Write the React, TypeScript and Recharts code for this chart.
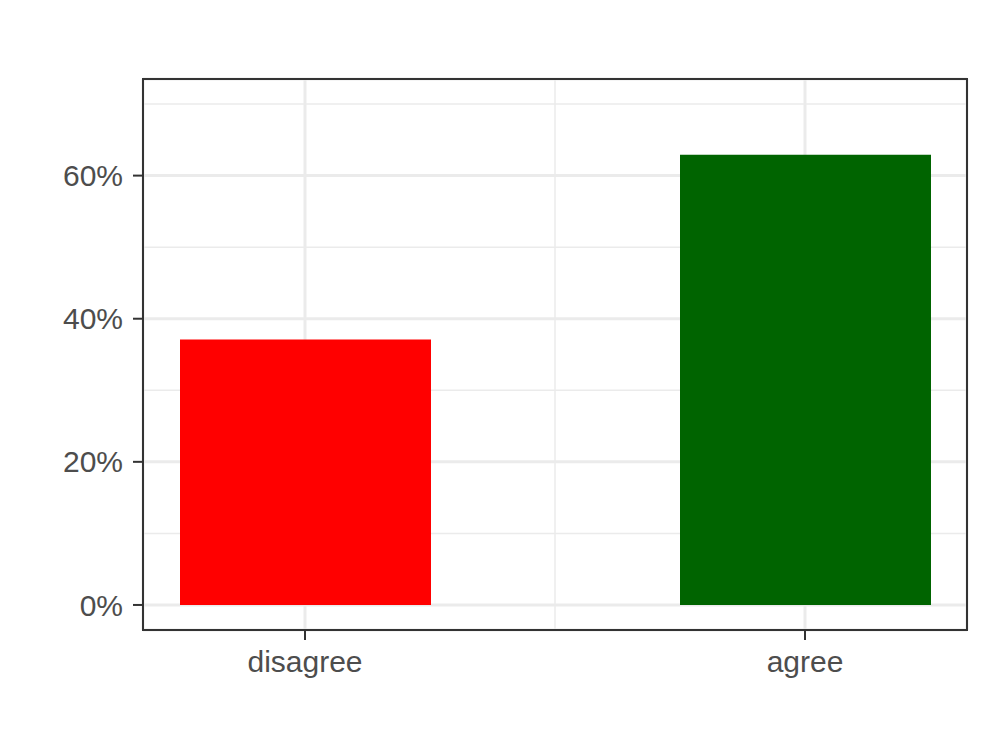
import React from "react";
import {
  BarChart,
  Bar,
  Cell,
  XAxis,
  YAxis,
  CartesianGrid,
  ReferenceArea,
} from "recharts";

const categories = ["disagree", "agree"];
const shares = [37.1, 62.9]; // percent
const barColors = ["#FF0000", "#006400"];
const yTicks = [0, 20, 40, 60];
const yMinorTicks = [10, 30, 50, 70];
const xMinorTicks = [0.5]; // halfway between the two categories
const yDomain: [number, number] = [-3.5, 73.5];

const data = categories.map((c, i) => ({ name: c, value: shares[i] }));

const FONT = "'Liberation Sans', Arial, Helvetica, sans-serif";
const GRID = "#EBEBEB";
const INK = "#333333";

const App: React.FC = () => {
  return (
    <div style={{ position: "absolute", left: 0, top: 0, background: "#fff" }}>
      <BarChart
        width={987}
        height={740}
        data={data}
        margin={{ top: 79, right: 20, bottom: 50, left: 0 }}
      >
        {/* minor grid */}
        <CartesianGrid
          xAxisId="g"
          horizontalValues={yMinorTicks}
          verticalValues={xMinorTicks}
          stroke={GRID}
          strokeWidth={1.5}
        />
        {/* major grid */}
        <CartesianGrid stroke={GRID} strokeWidth={3} />
        <XAxis
          dataKey="name"
          padding={{ left: -88, right: -88 }}
          axisLine={false}
          tickLine={{ stroke: INK, strokeWidth: 2 }}
          tickSize={10}
          tickMargin={11}
          height={60}
          tick={{ fill: "#4D4D4D", fontSize: 30, fontFamily: FONT }}
        />
        <XAxis xAxisId="g" type="number" domain={[0, 1]} hide />
        <YAxis
          type="number"
          domain={yDomain}
          ticks={yTicks}
          allowDataOverflow
          width={143}
          axisLine={false}
          tickLine={{ stroke: INK, strokeWidth: 2 }}
          tickSize={10}
          tickMargin={10}
          tickFormatter={(v: number) => `${v}%`}
          tick={{ fill: "#4D4D4D", fontSize: 30, fontFamily: FONT }}
        />
        <Bar dataKey="value" barSize={251} isAnimationActive={false}>
          {data.map((entry, index) => (
            <Cell key={`cell-${index}`} fill={barColors[index]} />
          ))}
        </Bar>
        <ReferenceArea
          xAxisId="g"
          x1={0}
          x2={1}
          y1={yDomain[0]}
          y2={yDomain[1]}
          fill="none"
          fillOpacity={0}
          stroke={INK}
          strokeWidth={2}
        />
      </BarChart>
    </div>
  );
};

export default App;
